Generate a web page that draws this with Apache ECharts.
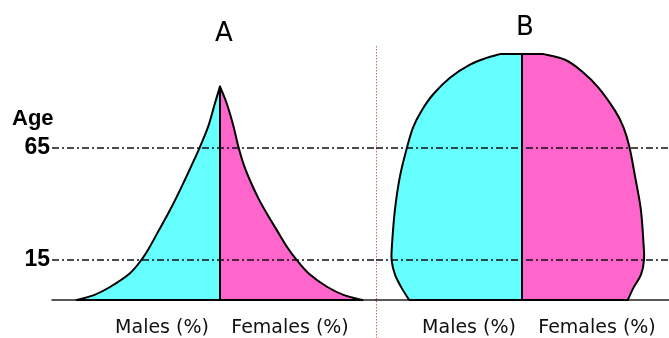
<!DOCTYPE html>
<html>
<head>
<meta charset="utf-8">
<script src="https://cdn.jsdelivr.net/npm/echarts@6/dist/echarts.min.js"></script>
<style>
  html, body { margin: 0; padding: 0; background: #fff; }
  #chart { width: 669px; height: 338px; }
</style>
</head>
<body>
<div id="chart"></div>
<script>
// outline of each half as [percent, age], from the base up to the top
const maleA = [[-7.17, -3], [-6.3, -0.8], [-5.5, 2.8], [-4.53, 8.7], [-3.92, 15], [-3.53, 20.4],
  [-3.08, 27.7], [-2.62, 35.1], [-2.2, 42.3], [-1.8, 49.7], [-1.42, 57], [-1.0, 65.3],
  [-0.58, 74.6], [-0.25, 84.8], [0, 92.1]]
const femaleA = [[7.12, -3], [6.2, -0.8], [5.37, 2.8], [4.45, 8.7], [3.82, 15], [3.37, 20.4],
  [2.87, 27.7], [2.37, 35.1], [1.92, 42.3], [1.53, 49.7], [1.2, 57], [0.92, 65.3],
  [0.67, 74.6], [0.33, 84.8], [0, 92.1]]
const maleB = [[-5.64, -3], [-6.02, 2.4], [-6.35, 8.3], [-6.52, 14.9], [-6.49, 22.9], [-6.35, 37.5],
  [-6.1, 52.2], [-5.74, 65.3], [-5.44, 74.1], [-5.02, 81.4], [-4.44, 88.7], [-3.6, 96.1],
  [-2.6, 101.9], [-1.77, 104.9], [-1.1, 106.6]]
const femaleB = [[5.29, -3], [5.57, 2.4], [5.95, 8.3], [6.1, 14.9], [6.07, 22.9], [5.94, 37.5],
  [5.65, 52.2], [5.37, 65.3], [5.07, 74.1], [4.65, 81.4], [3.82, 91.7], [2.99, 99],
  [2.15, 104.1], [1.07, 106.6]]

const ageTicks = [15, 65]
const sideLabelsA = [-2.9, 3.5]
const sideLabelsB = [-2.65, 3.75]

const MALE = '#66ffff'
const FEMALE = '#ff66cc'

// one filled half: center base -> smooth outer edge -> center top
function halfRenderer(points, color) {
  return function (params, api) {
    if (params.dataIndex !== 0) return null
    const px = points.map(p => api.coord(p))
    const base = api.coord([0, points[0][1]])
    const top = api.coord([0, points[points.length - 1][1]])
    let d = `M${base[0]},${base[1]} L${px[0][0]},${px[0][1]}`
    for (let i = 0; i < px.length - 1; i++) {
      const p0 = px[Math.max(i - 1, 0)]
      const p1 = px[i]
      const p2 = px[i + 1]
      const p3 = px[Math.min(i + 2, px.length - 1)]
      const c1 = [p1[0] + (p2[0] - p0[0]) / 6, p1[1] + (p2[1] - p0[1]) / 6]
      const c2 = [p2[0] - (p3[0] - p1[0]) / 6, p2[1] - (p3[1] - p1[1]) / 6]
      d += ` C${c1[0]},${c1[1]} ${c2[0]},${c2[1]} ${p2[0]},${p2[1]}`
    }
    d += ` L${top[0]},${top[1]} Z`
    return {
      type: 'path',
      shape: { pathData: d },
      style: { fill: color, stroke: '#000', lineWidth: 2, lineJoin: 'round' }
    }
  }
}

function half(points, color, idx) {
  return {
    type: 'custom',
    xAxisIndex: idx,
    yAxisIndex: idx,
    data: points,
    renderItem: halfRenderer(points, color),
    silent: true
  }
}

function ageLines(idx) {
  return {
    type: 'line',
    xAxisIndex: idx,
    yAxisIndex: idx,
    data: [],
    z: 5,
    markLine: {
      silent: true,
      symbol: 'none',
      label: { show: false },
      lineStyle: { color: '#111', type: [7, 3, 2, 3], width: 1.5 },
      data: ageTicks.map(v => ({ yAxis: v }))
    }
  }
}

function xAxis(idx, min, max, labels) {
  return {
    gridIndex: idx,
    type: 'value',
    min: min,
    max: max,
    splitLine: { show: false },
    axisTick: { show: false },
    axisLine: { onZero: false, lineStyle: { color: '#222', width: 1.5 } },
    axisLabel: {
      customValues: labels,
      formatter: v => (v < 0 ? 'Males (%)' : 'Females (%)'),
      fontFamily: 'DejaVu Sans',
      fontSize: 19,
      color: '#111',
      margin: 19
    }
  }
}

const chart = echarts.init(document.getElementById('chart'))

chart.setOption({
  animation: false,
  backgroundColor: '#fff',
  title: [
    { text: 'A', left: 215, top: 21, padding: 0,
      textStyle: { fontFamily: 'DejaVu Sans', fontSize: 26, fontWeight: 'normal', color: '#000' } },
    { text: 'B', left: 516, top: 15, padding: 0,
      textStyle: { fontFamily: 'DejaVu Sans', fontSize: 26, fontWeight: 'normal', color: '#000' } },
    { text: 'Age', left: 12, top: 108, padding: 0,
      textStyle: { fontFamily: 'Liberation Sans', fontSize: 22, fontWeight: 'bold', color: '#000' } }
  ],
  grid: [
    { left: 52, top: 42, width: 324, height: 262 },
    { left: 376, top: 42, width: 293, height: 262 }
  ],
  xAxis: [
    xAxis(0, -8.4, 7.8, sideLabelsA),
    xAxis(1, -7.3, 7.35, sideLabelsB)
  ],
  yAxis: [
    {
      gridIndex: 0, type: 'value', min: -3, max: 112,
      splitLine: { show: false },
      axisTick: { show: false },
      axisLine: { show: false, onZero: false },
      axisLabel: {
        customValues: ageTicks,
        fontFamily: 'Liberation Sans',
        fontSize: 23,
        fontWeight: 'bold',
        color: '#000',
        margin: 2
      }
    },
    {
      gridIndex: 1, type: 'value', min: -3, max: 112,
      splitLine: { show: false },
      axisTick: { show: false },
      axisLine: { show: false, onZero: false },
      axisLabel: { show: false }
    }
  ],
  graphic: [
    {
      type: 'line',
      silent: true,
      shape: { x1: 376.5, y1: 46, x2: 376.5, y2: 338 },
      style: { stroke: '#e06666', lineWidth: 1, lineDash: [1.5, 1.5] }
    }
  ],
  series: [
    half(maleA, MALE, 0),
    half(femaleA, FEMALE, 0),
    half(maleB, MALE, 1),
    half(femaleB, FEMALE, 1),
    ageLines(0),
    ageLines(1)
  ]
})
</script>
</body>
</html>
